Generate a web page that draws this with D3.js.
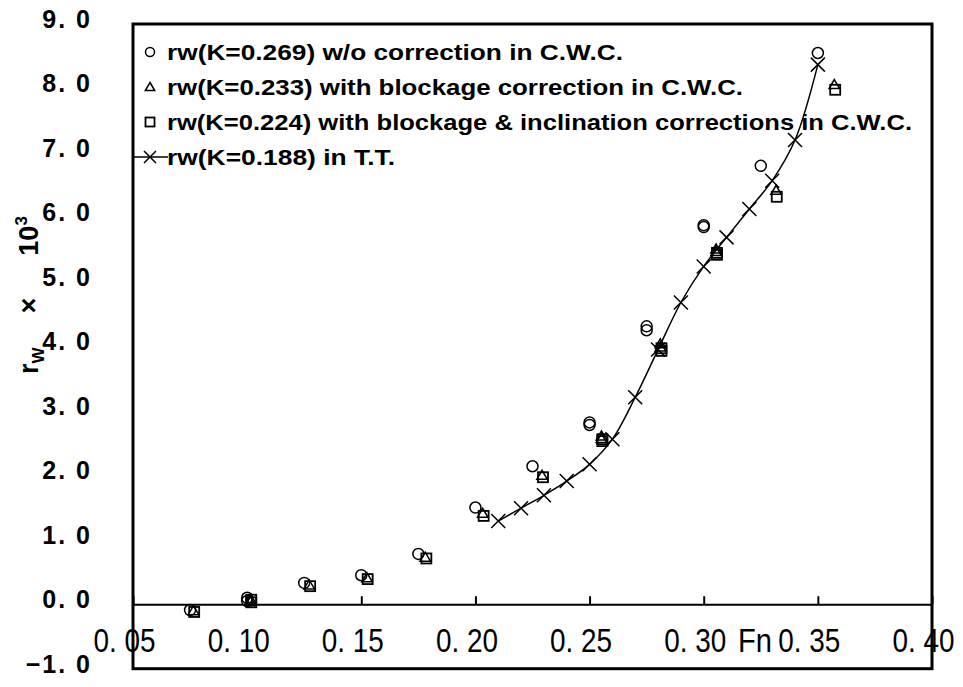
<!DOCTYPE html>
<html>
<head>
<meta charset="utf-8">
<script src="https://cdn.jsdelivr.net/npm/d3@7"></script>
<style>
  html, body { margin: 0; padding: 0; background: #fff; }
  svg { display: block; }
</style>
</head>
<body>
<div id="chart"></div>
<script>
/* -----------------    DATA     ------------------ */

// rw(K=0.269) w/o correction in C.W.C.  (circles)
const fnCircle = [0.075, 0.100, 0.100, 0.125, 0.150, 0.175, 0.200, 0.225, 0.250, 0.250, 0.275, 0.275, 0.300, 0.300, 0.325, 0.350];
const rwCircle = [-0.09, 0.05, 0.10, 0.33, 0.45, 0.78, 1.50, 2.14, 2.78, 2.82, 4.25, 4.31, 5.85, 5.88, 6.80, 8.55];

// rw(K=0.233) with blockage correction (triangles)
const fnTri = [0.0765, 0.1015, 0.1015, 0.1272, 0.1525, 0.1780, 0.2032, 0.2292, 0.2552, 0.2552, 0.2810, 0.2810, 0.3054, 0.3054, 0.3317, 0.3572];
const rwTri = [-0.10, 0.04, 0.08, 0.30, 0.41, 0.73, 1.41, 2.00, 2.57, 2.61, 3.99, 4.04, 5.47, 5.51, 6.42, 8.06];

// rw(K=0.224) with blockage & inclination corrections (squares)
const fnSq = [0.0768, 0.1018, 0.1018, 0.1276, 0.1528, 0.1785, 0.2036, 0.2296, 0.2556, 0.2556, 0.2815, 0.2815, 0.3058, 0.3058, 0.3320, 0.3576];
const rwSq = [-0.12, 0.03, 0.07, 0.28, 0.39, 0.71, 1.37, 1.97, 2.53, 2.56, 3.93, 3.97, 5.42, 5.45, 6.32, 7.98];

// rw(K=0.188) in T.T. (crosses + smooth line)
const fnTT = [0.21, 0.22, 0.23, 0.24, 0.25, 0.26, 0.27, 0.28, 0.29, 0.30, 0.31, 0.32, 0.33, 0.34, 0.35];
const rwTT = [1.29, 1.49, 1.69, 1.91, 2.17, 2.56, 3.21, 3.95, 4.68, 5.24, 5.69, 6.13, 6.57, 7.20, 8.37];

const xTicks = [0.05, 0.10, 0.15, 0.20, 0.25, 0.30, 0.35, 0.40];
const yTicks = [-1, 0, 1, 2, 3, 4, 5, 6, 7, 8, 9];

const legendLabels = [
    'rw(K=0.269) w/o correction in C.W.C.',
    'rw(K=0.233) with blockage correction in C.W.C.',
    'rw(K=0.224) with blockage & inclination corrections in C.W.C.',
    'rw(K=0.188) in T.T.'
];

/* -----------------    SETTINGS     ------------------ */
const settings = {
    width: 963,
    height: 687,
    left: 133,
    right: 932,
    top: 24,
    bottom: 668.7,
    legendWidths: [456, 576, 745, 228]
};

/* -----------------    DRAW     ------------------ */
const svg = d3.select('#chart')
    .append('svg')
    .attr('width', settings.width)
    .attr('height', settings.height);

const x = d3.scaleLinear().domain([0.05, 0.40]).range([settings.left, settings.right]);
const y = d3.scaleLinear().domain([-1, 9]).range([settings.bottom, settings.top]);

const zip = (xs, ys) => xs.map((v, i) => ({ fn: v, rw: ys[i] }));

// x axis along rw = 0
const xAxis = d3.axisBottom(x)
    .tickValues(xTicks)
    .tickSizeInner(-8)
    .tickSizeOuter(0)
    .tickFormat(d => d3.format('.2f')(d).replace('.', '. '));

const gx = svg.append('g')
    .attr('transform', `translate(0, ${y(0)})`)
    .call(xAxis);

gx.select('.domain').attr('stroke', '#000').attr('stroke-width', 2);
gx.selectAll('.tick line').attr('stroke', '#000').attr('stroke-width', 2);
gx.selectAll('.tick text')
    .attr('x', -9)
    .attr('y', 48)
    .attr('dy', 0)
    .attr('fill', '#000')
    .attr('font-family', 'Liberation Sans, Arial, sans-serif')
    .attr('font-size', 34)
    .attr('textLength', 62)
    .attr('lengthAdjust', 'spacingAndGlyphs');

// y axis labels
const yAxis = d3.axisLeft(y)
    .tickValues(yTicks)
    .tickSize(0)
    .tickPadding(0)
    .tickFormat(d => d3.format('.1f')(d).replace('.', '. ').replace('-', '\u2212'));

const gy = svg.append('g')
    .attr('transform', `translate(${settings.left}, 0)`)
    .call(yAxis);

gy.select('.domain').remove();
gy.selectAll('.tick text')
    .attr('x', -41)
    .attr('dy', '0.34em')
    .attr('y', -5)
    .attr('fill', '#000')
    .attr('font-family', 'Liberation Sans, Arial, sans-serif')
    .attr('font-weight', 'bold')
    .attr('font-size', 25)
    .attr('letter-spacing', 2);

// x axis title
svg.append('text')
    .attr('x', 738)
    .attr('y', y(0) + 48)
    .attr('font-family', 'Liberation Sans, Arial, sans-serif')
    .attr('font-size', 34)
    .attr('textLength', 34)
    .attr('lengthAdjust', 'spacingAndGlyphs')
    .text('Fn');

// y axis title
const yTitle = svg.append('text')
    .attr('transform', 'translate(38, 374) rotate(-90)')
    .attr('font-family', 'Liberation Sans, Arial, sans-serif')
    .attr('font-weight', 'bold')
    .attr('font-size', 27);
yTitle.append('tspan').text('r');
yTitle.append('tspan').attr('font-size', 17).attr('dy', 6).text('W');
yTitle.append('tspan').attr('dy', -6).attr('dx', 34).text('\u00d7');
yTitle.append('tspan').attr('dx', 42).text('10');
yTitle.append('tspan').attr('font-size', 17).attr('dy', -11).text('3');

// T.T. smooth line
const line = d3.line()
    .x(d => x(d.fn))
    .y(d => y(d.rw))
    .curve(d3.curveCatmullRom.alpha(0.5));

svg.append('path')
    .datum(zip(fnTT, rwTT))
    .attr('d', line)
    .attr('fill', 'none')
    .attr('stroke', '#000')
    .attr('stroke-width', 1.5);

// marker helpers
const crossPath = s => `M${-s},${-s}L${s},${s}M${-s},${s}L${s},${-s}`;
const triPath = s => `M0,${-s}L${s * 1.05},${s * 0.8}L${-s * 1.05},${s * 0.8}Z`;

function drawCircle(g, cx, cy, r) {
    g.append('circle').attr('cx', cx).attr('cy', cy).attr('r', r)
        .attr('fill', 'none').attr('stroke', '#000').attr('stroke-width', 1.5);
}
function drawTri(g, cx, cy, s) {
    g.append('path').attr('d', triPath(s)).attr('transform', `translate(${cx},${cy})`)
        .attr('fill', 'none').attr('stroke', '#000').attr('stroke-width', 1.5);
}
function drawSq(g, cx, cy, s) {
    g.append('rect').attr('x', cx - s).attr('y', cy - s).attr('width', 2 * s).attr('height', 2 * s)
        .attr('fill', 'none').attr('stroke', '#000').attr('stroke-width', 1.8);
}
function drawCross(g, cx, cy, s) {
    g.append('path').attr('d', crossPath(s)).attr('transform', `translate(${cx},${cy})`)
        .attr('fill', 'none').attr('stroke', '#000').attr('stroke-width', 1.5);
}

const marks = svg.append('g');

marks.append('g').selectAll('circle')
    .data(zip(fnCircle, rwCircle))
    .enter()
    .append('circle')
    .attr('cx', d => x(d.fn))
    .attr('cy', d => y(d.rw))
    .attr('r', 5.5)
    .attr('fill', 'none')
    .attr('stroke', '#000')
    .attr('stroke-width', 1.5);

marks.append('g').selectAll('path')
    .data(zip(fnTri, rwTri))
    .enter()
    .append('path')
    .attr('d', triPath(5))
    .attr('transform', d => `translate(${x(d.fn)},${y(d.rw)})`)
    .attr('fill', 'none')
    .attr('stroke', '#000')
    .attr('stroke-width', 1.5);

marks.append('g').selectAll('rect')
    .data(zip(fnSq, rwSq))
    .enter()
    .append('rect')
    .attr('x', d => x(d.fn) - 5)
    .attr('y', d => y(d.rw) - 5)
    .attr('width', 10)
    .attr('height', 10)
    .attr('fill', 'none')
    .attr('stroke', '#000')
    .attr('stroke-width', 1.8);

marks.append('g').selectAll('path')
    .data(zip(fnTT, rwTT))
    .enter()
    .append('path')
    .attr('d', crossPath(7))
    .attr('transform', d => `translate(${x(d.fn)},${y(d.rw)})`)
    .attr('fill', 'none')
    .attr('stroke', '#000')
    .attr('stroke-width', 1.5);

// legend
const legend = svg.append('g');
const rowY = [52, 87, 122, 157];
const symX = 150;

drawCircle(legend, symX, rowY[0], 4.5);
drawTri(legend, symX, rowY[1], 4.5);
drawSq(legend, symX, rowY[2], 4.5);
legend.append('line')
    .attr('x1', settings.left).attr('x2', 168)
    .attr('y1', rowY[3]).attr('y2', rowY[3])
    .attr('stroke', '#000').attr('stroke-width', 1.5);
drawCross(legend, 150, rowY[3], 6);

legend.selectAll('text')
    .data(legendLabels)
    .enter()
    .append('text')
    .attr('x', 167)
    .attr('y', (d, i) => rowY[i])
    .attr('dy', '0.35em')
    .attr('font-family', 'Liberation Sans, Arial, sans-serif')
    .attr('font-weight', 'bold')
    .attr('font-size', 22)
    .attr('textLength', (d, i) => settings.legendWidths[i])
    .attr('lengthAdjust', 'spacingAndGlyphs')
    .text(d => d);

// plot frame
svg.append('rect')
    .attr('x', settings.left)
    .attr('y', settings.top)
    .attr('width', settings.right - settings.left)
    .attr('height', settings.bottom - settings.top)
    .attr('fill', 'none')
    .attr('stroke', '#000')
    .attr('stroke-width', 3);
</script>
</body>
</html>
